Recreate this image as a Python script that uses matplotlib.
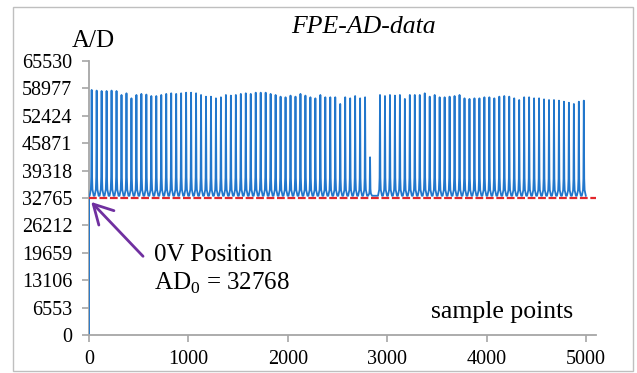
import numpy as np
import matplotlib
matplotlib.use('Agg')
import matplotlib.pyplot as plt
from matplotlib.patches import Rectangle

# --- data ---
y_ticks = [0, 6553, 13106, 19659, 26212, 32765, 39318, 45871, 52424, 58977, 65530]
x_ticks = [0, 1000, 2000, 3000, 4000, 5000]

zero_level = 32765      # red dashed line (0V position)
base_level = 33300      # blue trace between spikes
first_spike = 27        # sample index of first spike
spike_every = 50        # samples between spikes

# peak value of every spike slot (None = no spike in that slot)
peaks = [
    58600, 58450, 58350, 58350, 58450, 58350, 57400, 57800, 56600, 57400,
    57650, 57500, 57150, 57150, 57400, 57650, 57800, 57650, 57800, 57950,
    57950, 57800, 57400, 57000, 57000, 56600, 56850, 57400, 57250, 57400,
    57650, 57800, 57650, 57950, 57950, 57950, 57650, 57400, 57000, 56850,
    57250, 57000, 57650, 57250, 56850, 56600, 57400, 56850, 56850, 56850,
    55250, 56850, 56600, 57150, 56600, 56850, 42500, None, 57400, 57150,
    57400, 57250, 57400, 56450, 57400, 57400, 57400, 57800, 57000, 57400,
    56850, 56850, 57000, 57150, 57400, 56600, 56450, 56600, 56600, 56850,
    56850, 56600, 57000, 57150, 57000, 56600, 56200, 56850, 56850, 56600,
    56600, 56350, 56200, 56200, 56050, 55800, 55550, 55250, 55800, 56050,
]

# shape of one spike: sample offset from peak, fraction of height
shape_off = [-20, -8, -4, -2, 0, 2, 4, 8, 20]
shape_frac = [0.0, 0.06, 0.18, 0.55, 1.0, 0.55, 0.18, 0.06, 0.0]

xs = [0, 1]
ys = [0, base_level]
for i, h in enumerate(peaks):
    if h is None:
        continue
    c = first_spike + i * spike_every
    for o, f in zip(shape_off, shape_frac):
        xs.append(c + o)
        ys.append(base_level + f * (h - base_level))

plt.rcParams['font.family'] = 'Liberation Serif'
plt.rcParams['mathtext.fontset'] = 'custom'
plt.rcParams['mathtext.rm'] = 'Liberation Serif'

fig = plt.figure(figsize=(6.37, 3.73), dpi=100)
fig.patches.append(Rectangle((0.0204, 0.0054), 0.9733, 0.9758, transform=fig.transFigure,
                             fill=False, ec='#bfbfbf', lw=1))
ax = fig.add_axes([0.1397, 0.1019, 0.7960, 0.7346])

ax.plot(xs, ys, c='#2277cc', lw=1.3, zorder=2)
ax.plot([0, 5100], [zero_level, zero_level], c='#e3262b', lw=1.6,
        dashes=(3.5, 1.2), zorder=3)

ax.set_xlim(0, 5100)
ax.set_ylim(0, 65530)
ax.set_xticks(x_ticks)
ax.set_yticks(y_ticks)
ax.tick_params(labelsize=14.5, colors='#a6a6a6', labelcolor='black', length=5, width=1.2)
ax.tick_params(axis='y', pad=7)
ax.tick_params(axis='x', pad=6)
for s in ['top', 'right']:
    ax.spines[s].set_visible(False)
for s in ['left', 'bottom']:
    ax.spines[s].set_color('#a6a6a6')
    ax.spines[s].set_linewidth(1.3)
ax.spines['left'].set_zorder(1)

ax.annotate('', xy=(3, 32300), xytext=(563, 18340),
            arrowprops=dict(arrowstyle='->, head_length=0.55, head_width=0.3',
                            color='#7030a0', lw=2, mutation_scale=25))
ax.text(650, 17700, '0V Position', fontsize=18, ha='left', va='baseline')
ax.text(650, 10700, 'AD$_{0}$ = 32768', fontsize=18, ha='left', va='baseline')

fig.text(115 / 637, 1 - 46.7 / 373, 'A/D', fontsize=18, ha='right', va='baseline')
fig.text(363.5 / 637, 1 - 33 / 373, 'FPE-AD-data', fontsize=18.5, style='italic',
         ha='center', va='baseline')
fig.text(573 / 637, 1 - 318 / 373, 'sample points', fontsize=18.5, ha='right', va='baseline')

fig.savefig('out.png', dpi=100)
